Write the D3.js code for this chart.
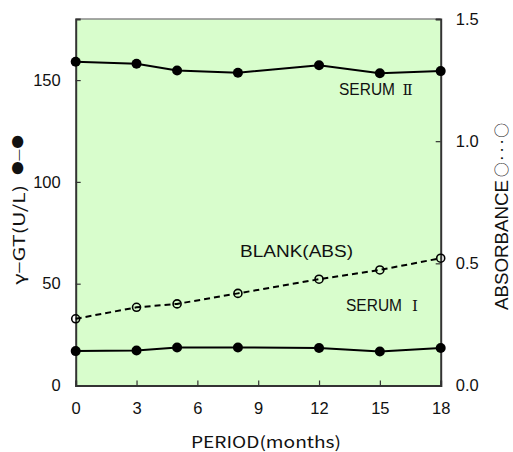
<!DOCTYPE html>
<html><head><meta charset="utf-8">
<script src="https://cdn.jsdelivr.net/npm/d3@7"></script>
<style>body{margin:0;background:#fff}svg{display:block}</style>
</head><body>
<svg id="c" width="513" height="452"></svg>
<script>
const months = [0, 3, 5, 8, 12, 15, 18];
const serum2 = [159.0, 158.0, 154.7, 153.6, 157.3, 153.4, 154.4];
const serum1 = [16.9, 17.2, 18.7, 18.7, 18.4, 16.7, 18.4];
const blankAbs = [0.273, 0.320, 0.334, 0.377, 0.435, 0.473, 0.521];
const xTicks = [0, 3, 6, 9, 12, 15, 18];
const leftTicks = [0, 50, 100, 150];
const rightTicks = [0.0, 0.5, 1.0, 1.5];

const svg = d3.select("#c");
const L = 75.7, R = 440.7, T = 19, B = 385.5;
const x = d3.scaleLinear().domain([0, 18]).range([L, R]);
const yL = d3.scaleLinear().domain([0, 180]).range([B, T]);
const yR = d3.scaleLinear().domain([0, 1.5]).range([B, T]);

svg.append("rect").attr("x", L).attr("y", T).attr("width", R - L).attr("height", B - T).attr("fill", "#d8fdcc");
svg.append("line").attr("x1", L).attr("x2", R).attr("y1", T).attr("y2", T).attr("stroke", "#8a8a8a").attr("stroke-width", 1.5);

const sans = "'Liberation Sans',Arial,sans-serif";
const cjk = "'Noto Sans CJK JP','Liberation Sans',sans-serif";
const serif = "'DejaVu Serif','Liberation Serif',serif";

const xAxis = svg.append("g").attr("transform", `translate(0,${B})`)
  .call(d3.axisBottom(x).tickValues(xTicks).tickSize(-5).tickPadding(17).tickFormat(d3.format("d")));
const lAxis = svg.append("g").attr("transform", `translate(${L},0)`)
  .call(d3.axisLeft(yL).tickValues(leftTicks).tickSize(-5).tickPadding(15).tickFormat(d3.format("d")));
const rAxis = svg.append("g").attr("transform", `translate(${R},0)`)
  .call(d3.axisRight(yR).tickValues(rightTicks).tickSize(-5).tickPadding(15).tickFormat(d3.format(".1f")));
[xAxis, lAxis, rAxis].forEach(g => {
  g.selectAll("path.domain").attr("stroke", "#333").attr("stroke-width", 2);
  g.selectAll(".tick line").attr("stroke", "#333").attr("stroke-width", 1.2);
  g.selectAll("text").style("font-size", "16.5px").style("font-family", sans).style("fill", "#111");
});

const lineL = d3.line().x((d, i) => x(months[i])).y(d => yL(d));
const lineR = d3.line().x((d, i) => x(months[i])).y(d => yR(d));

svg.append("path").datum(serum2).attr("d", lineL).attr("fill", "none").attr("stroke", "#000").attr("stroke-width", 2);
svg.append("path").datum(serum1).attr("d", lineL).attr("fill", "none").attr("stroke", "#000").attr("stroke-width", 2);
svg.append("path").datum(blankAbs).attr("d", lineR).attr("fill", "none").attr("stroke", "#000").attr("stroke-width", 2).attr("stroke-dasharray", "6,4");

[serum2, serum1].forEach(s => {
  svg.append("g").selectAll("circle").data(s).join("circle")
    .attr("cx", (d, i) => x(months[i])).attr("cy", d => yL(d)).attr("r", 5).attr("fill", "#000");
});
svg.append("g").selectAll("circle").data(blankAbs).join("circle")
  .attr("cx", (d, i) => x(months[i])).attr("cy", d => yR(d)).attr("r", 4).attr("fill", "none").attr("stroke", "#000").attr("stroke-width", 1.6);

function label(sel, fam, size, len) {
  sel.style("font-family", fam).style("font-size", size + "px").style("fill", "#111");
  if (len) sel.attr("textLength", len).attr("lengthAdjust", "spacingAndGlyphs");
  return sel;
}
// in-plot labels
label(svg.append("text").attr("x", 339).attr("y", 95).text("SERUM"), sans, 16, 56);
label(svg.append("text").attr("x", 407.5).attr("y", 95).attr("text-anchor", "middle").text("Ⅱ"), serif, 15);
label(svg.append("text").attr("x", 240).attr("y", 257).text("BLANK(ABS)"), sans, 16, 113);
label(svg.append("text").attr("x", 346).attr("y", 311).text("SERUM"), sans, 16, 56);
label(svg.append("text").attr("x", 415).attr("y", 311).attr("text-anchor", "middle").text("Ⅰ"), serif, 15);

// axis titles
label(svg.append("text").attr("x", 191).attr("y", 448).text("PERIOD(months)"), cjk, 16, 150);
label(svg.append("text").attr("transform", "translate(24.5,285) rotate(-90)").text("γ−GT(U/L)"), cjk, 16, 100);
label(svg.append("text").attr("transform", "translate(23,175) rotate(-90)").text("●—●"), cjk, 12.5, 40);
label(svg.append("text").attr("transform", "translate(508,310) rotate(-90)").text("ABSORBANCE"), sans, 19, 130);
label(svg.append("text").attr("transform", "translate(507,177) rotate(-90)").text("○···○"), cjk, 15, 54);
</script>
</body></html>
